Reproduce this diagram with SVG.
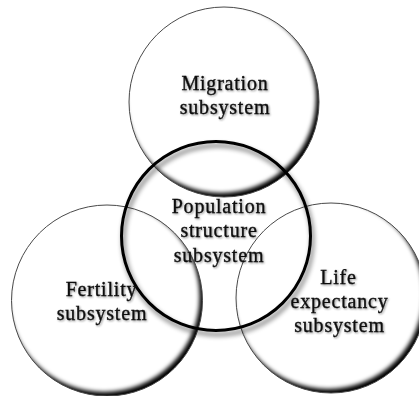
<svg xmlns="http://www.w3.org/2000/svg" width="419" height="396" viewBox="0 0 419 396">
  <defs>
    <style>
      .rim { fill: none; stroke: #4a4a4a; stroke-width: 1; }
      .shade { fill: none; stroke: #000; stroke-width: 20; filter: url(#soft); }
      .core { fill: none; stroke: #000; stroke-width: 3; filter: url(#drop); }
      .lbl { font-family: "Liberation Serif", "Times New Roman", serif; font-size: 20px; letter-spacing: 0.8px; text-anchor: middle; fill: #111; stroke: #111; stroke-width: 0.35; filter: url(#glow); }
    </style>
    <filter id="soft" x="-20%" y="-20%" width="140%" height="140%">
      <feGaussianBlur stdDeviation="2.2"/>
    </filter>
    <filter id="drop" x="-20%" y="-20%" width="140%" height="140%">
      <feGaussianBlur in="SourceAlpha" stdDeviation="2.5"/>
      <feOffset dx="2" dy="4" result="sh"/>
      <feComponentTransfer in="sh" result="shf">
        <feFuncA type="linear" slope="0.6"/>
      </feComponentTransfer>
      <feMerge>
        <feMergeNode in="shf"/>
        <feMergeNode in="SourceGraphic"/>
      </feMerge>
    </filter>
    <filter id="glow" x="-10%" y="-30%" width="120%" height="160%">
      <feGaussianBlur in="SourceAlpha" stdDeviation="0.8"/>
      <feOffset dx="0.5" dy="0.8" result="g"/>
      <feComponentTransfer in="g" result="gf">
        <feFuncA type="linear" slope="0.45"/>
      </feComponentTransfer>
      <feMerge>
        <feMergeNode in="gf"/>
        <feMergeNode in="SourceGraphic"/>
      </feMerge>
    </filter>
    <clipPath id="clipTop"><circle cx="224" cy="102" r="95"/></clipPath>
    <clipPath id="clipLeft"><circle cx="107" cy="300.5" r="95.5"/></clipPath>
    <clipPath id="clipRight"><circle cx="331" cy="298" r="95"/></clipPath>
  </defs>

  <rect width="419" height="396" fill="#fff"/>

  <!-- Fertility subsystem -->
  <g id="fertility">
    <g clip-path="url(#clipLeft)">
      <circle class="shade" cx="104" cy="296.5" r="105.5"/>
    </g>
    <circle class="rim" cx="107" cy="300.5" r="95.5"/>
  </g>

  <!-- Life expectancy subsystem -->
  <g id="life-expectancy">
    <g clip-path="url(#clipRight)">
      <circle class="shade" cx="328" cy="294" r="105"/>
    </g>
    <circle class="rim" cx="331" cy="298" r="95"/>
  </g>

  <!-- Migration subsystem -->
  <g id="migration">
    <g clip-path="url(#clipTop)">
      <circle class="shade" cx="221" cy="98" r="105"/>
    </g>
    <circle class="rim" cx="224" cy="102" r="95"/>
  </g>

  <!-- Population structure subsystem (central ring) -->
  <g id="population">
    <circle class="core" cx="216" cy="236" r="94.5"/>
  </g>

  <!-- labels -->
  <g id="labels">
    <text class="lbl" x="225" y="90">Migration</text>
    <text class="lbl" x="225" y="114">subsystem</text>
    <text class="lbl" x="219" y="212.5">Population</text>
    <text class="lbl" x="219" y="237">structure</text>
    <text class="lbl" x="219" y="261.5">subsystem</text>
    <text class="lbl" x="101.5" y="296">Fertility</text>
    <text class="lbl" x="102" y="320">subsystem</text>
    <text class="lbl" x="338.5" y="284">Life</text>
    <text class="lbl" x="339.5" y="308">expectancy</text>
    <text class="lbl" x="339.5" y="332">subsystem</text>
  </g>

  <!-- the diagram has no connector lines; kept empty for structure -->
  <g id="connectors"/>
</svg>
